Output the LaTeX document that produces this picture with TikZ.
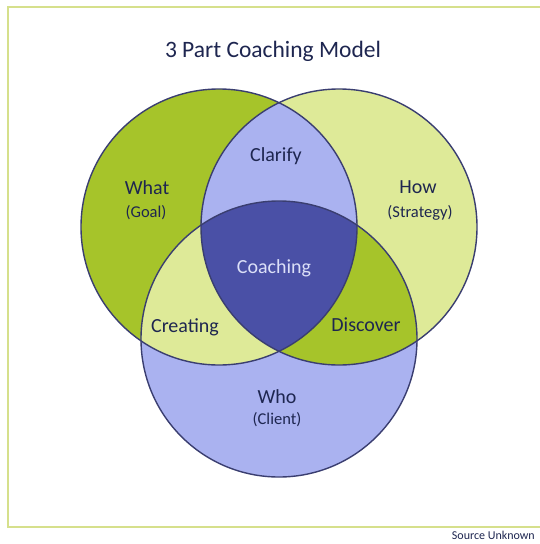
\documentclass[tikz,border=0pt]{standalone}
\usepackage{fontspec}
\setmainfont{Carlito}
\begin{document}
\begin{tikzpicture}[x=1pt,y=-1pt,
  ring/.style={draw=outline,line width=1.4pt},
  lbl/.style={text=labeltext,font=\fontsize{20}{22}\selectfont,inner sep=0pt},
  sublbl/.style={text=labeltext,font=\fontsize{16.5}{18}\selectfont,inner sep=0pt}]
\definecolor{outline}{RGB}{58,62,112}
\definecolor{olive}{RGB}{166,196,42}
\definecolor{paleyg}{RGB}{222,234,152}
\definecolor{lavender}{RGB}{170,178,240}
\definecolor{deepblue}{RGB}{74,80,166}
\definecolor{labeltext}{RGB}{30,38,80}
\definecolor{framecol}{RGB}{214,224,140}
\definecolor{coachtext}{RGB}{220,224,248}
\useasboundingbox (0,0) rectangle (540,544);
\fill[white] (0,0) rectangle (540,544);
\draw[framecol,line width=1.2pt] (8,7) rectangle (560,527);
\def\rr{138}
\coordinate (L) at (219,227);
\coordinate (R) at (339,227);
\coordinate (B) at (279,339);
% base circles
\fill[olive] (L) circle[radius=\rr];
\fill[paleyg] (R) circle[radius=\rr];
\fill[lavender] (B) circle[radius=\rr];
% Clarify: left and right
\begin{scope}
  \clip (L) circle[radius=\rr];
  \fill[lavender] (R) circle[radius=\rr];
\end{scope}
% Creating: left and bottom
\begin{scope}
  \clip (L) circle[radius=\rr];
  \fill[paleyg] (B) circle[radius=\rr];
\end{scope}
% Discover: right and bottom
\begin{scope}
  \clip (R) circle[radius=\rr];
  \fill[olive] (B) circle[radius=\rr];
\end{scope}
% Coaching: all three
\begin{scope}
  \clip (L) circle[radius=\rr];
  \clip (R) circle[radius=\rr];
  \fill[deepblue] (B) circle[radius=\rr];
\end{scope}
\draw[ring] (L) circle[radius=\rr];
\draw[ring] (R) circle[radius=\rr];
\draw[ring] (B) circle[radius=\rr];
% texts
\node[text=labeltext,font=\fontsize{23.5}{26}\selectfont] (title) at (273,51) {3 Part Coaching Model};
\node[lbl] (what) at (147,188) {What};
\node[sublbl] (goal) at (146,213) {(Goal)};
\node[lbl] (how) at (418,187) {How};
\node[sublbl] (strategy) at (420,213) {(Strategy)};
\node[lbl] (clarify) at (276,156) {Clarify};
\node[lbl,text=coachtext] (coaching) at (274,268) {Coaching};
\node[lbl] (creating) at (185,327) {Creating};
\node[lbl] (discover) at (366,325) {Discover};
\node[lbl] (who) at (277,397) {Who};
\node[sublbl] (client) at (277,420) {(Client)};
\node[text=labeltext,font=\fontsize{12}{14}\selectfont,anchor=east,inner sep=0pt] (source) at (535,535.5) {Source Unknown};
\end{tikzpicture}
\end{document}
